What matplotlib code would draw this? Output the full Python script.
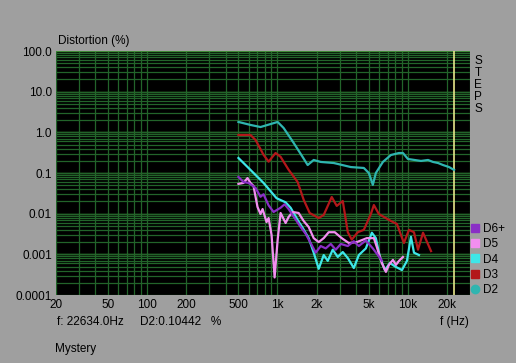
"""
Distortion vs frequency (harmonic steps), recreated from an analyzer screenshot.
"""
import matplotlib
matplotlib.use('Agg')
import matplotlib.pyplot as plt
from matplotlib.lines import Line2D
import numpy as np

# --- data ---
d2_f = [502, 621, 741, 840, 1003, 1115, 1331, 1560, 1705, 1897, 2147, 2704,
        3655, 4598, 5024, 5390, 5687, 6440, 7419, 8550, 9180, 10020, 12620,
        14290, 15600, 17060, 18630, 20720, 22640]
d2_v = [1.80, 1.52, 1.35, 1.52, 1.80, 1.28, 0.55, 0.248, 0.157, 0.209, 0.187,
        0.176, 0.14, 0.133, 0.10, 0.051, 0.10, 0.187, 0.277, 0.31, 0.31, 0.221,
        0.198, 0.209, 0.187, 0.176, 0.157, 0.14, 0.119]

d3_f = [502, 621, 679, 782, 855, 967, 1057, 1218, 1428, 1589, 1767, 2072, 2264,
        2609, 2850, 3170, 3464, 3717, 4135, 4598, 5207, 5490, 5998, 7419, 8249,
        9337, 10205, 11150, 11970, 13080, 15070]
d3_v = [0.86, 0.86, 0.65, 0.28, 0.19, 0.31, 0.25, 0.12, 0.06, 0.022, 0.0104,
        0.0078, 0.0093, 0.0257, 0.0155, 0.0205, 0.0035, 0.0023, 0.0035, 0.004,
        0.0098, 0.0163, 0.0098, 0.0066, 0.0056, 0.0019, 0.004, 0.0035, 0.0013,
        0.0034, 0.0012]

d4_f = [502, 621, 782, 984, 1155, 1262, 1428, 1560, 1736, 1897, 2072, 2264,
        2431, 2655, 2901, 3170, 3464, 3852, 4209, 4765, 5300, 5687, 6106, 6670,
        7287, 8104, 9015, 9850, 10570, 11150, 12180]
d4_v = [0.234, 0.119, 0.057, 0.024, 0.019, 0.014, 0.007, 0.0045, 0.0025,
        0.0011, 0.00044, 0.00096, 0.00069, 0.0013, 0.00086, 0.00114, 0.00081,
        0.00046, 0.00096, 0.0014, 0.0034, 0.0025, 0.00086, 0.00041, 0.00061,
        0.00049, 0.00041, 0.00069, 0.0027, 0.0011, 0.00096]

d5_f = [502, 549, 589, 621, 655, 703, 741, 769, 825, 855, 901, 951, 1003, 1057,
        1155, 1218, 1307, 1454, 1589, 1736, 1897, 2072, 2264, 2473, 2751, 3113,
        3525, 4060, 4850, 5490, 5790, 6325, 6790, 7160, 7690, 8104, 8550, 9180]
d5_v = [0.054, 0.057, 0.075, 0.057, 0.048, 0.0146, 0.0098, 0.013, 0.0062,
        0.0078, 0.003, 0.00027, 0.00225, 0.0104, 0.0059, 0.0083, 0.011, 0.0104,
        0.0066, 0.0047, 0.0025, 0.0020, 0.0025, 0.0035, 0.0035, 0.0025, 0.0019,
        0.0020, 0.0025, 0.0025, 0.0015, 0.00061, 0.00037, 0.00055, 0.00073,
        0.00055, 0.00069, 0.00086]

d6_f = [502, 549, 600, 679, 741, 782, 855, 934, 1057, 1135, 1218, 1354, 1507,
        1646, 1797, 1965, 2147, 2346, 2564, 2800, 3060, 3464, 3852, 4209, 4765,
        5390, 5890, 6325]
d6_v = [0.08, 0.06, 0.057, 0.043, 0.026, 0.030, 0.016, 0.011, 0.014, 0.017,
        0.013, 0.0078, 0.0047, 0.0032, 0.0019, 0.0011, 0.0016, 0.0014, 0.0018,
        0.0013, 0.0018, 0.0016, 0.0021, 0.0016, 0.0022, 0.0014, 0.00096, 0.0007]

series = [
    ('D2', d2_f, d2_v, '#2fb5b0', 'o'),
    ('D3', d3_f, d3_v, '#b3171a', 's'),
    ('D4', d4_f, d4_v, '#3ee6e8', 's'),
    ('D5', d5_f, d5_v, '#f28ef0', 's'),
    ('D6+', d6_f, d6_v, '#8a2fc6', 's'),
]

x_ticks = [20, 50, 100, 200, 500, 1000, 2000, 5000, 10000, 20000]
x_ticklabels = ['20', '50', '100', '200', '500', '1k', '2k', '5k', '10k', '20k']
y_ticks = [100, 10, 1, 0.1, 0.01, 0.001, 0.0001]
y_ticklabels = ['100.0', '10.0', '1.0', '0.1', '0.01', '0.001', '0.0001']

cursor_f = 22634.0
cursor_d2 = 0.10442

plt.rcParams['font.family'] = ['Liberation Sans', 'DejaVu Sans']
BG = '#9f9f9f'

fig = plt.figure(figsize=(5.16, 3.63), dpi=100, facecolor=BG)
ax = fig.add_axes([56/516, 1 - 295/363, 414/516, 244/363], facecolor='black')
ax.set_xscale('log')
ax.set_yscale('log')
ax.set_xlim(20, 30000)
ax.set_ylim(0.0001, 100)

# grid: every integer step inside each decade
for dec in [10, 100, 1000, 10000]:
    for m in range(1, 10):
        f = dec * m
        if 20 <= f <= 30000:
            ax.axvline(f, color='#22642a', lw=0.9, zorder=1)
for dec in [0.0001, 0.001, 0.01, 0.1, 1, 10]:
    for m in range(1, 10):
        ax.axhline(dec * m, color='#22642a', lw=0.9, zorder=1)
    ax.axhline(dec * 10, color='#3f8a36', lw=1.0, zorder=1)

ax.axvline(cursor_f, color='#e6e68a', lw=1.2, zorder=2)

for name, f, v, col, mk in series:
    ax.plot(f, v, color=col, lw=1.6, zorder=3, solid_joinstyle='round')

ax.set_xticks(x_ticks)
ax.set_xticklabels(x_ticklabels)
ax.set_yticks(y_ticks)
ax.set_yticklabels(y_ticklabels)
ax.minorticks_off()
ax.tick_params(length=0, labelsize=8.5, colors='black', pad=3)
for s in ax.spines.values():
    s.set_visible(False)

fig.text(58/516, 1 - 41/363, 'Distortion (%)', fontsize=8.5, va='center')
fig.text(478/516, 1 - 85/363, 'S\nT\nE\nP\nS', fontsize=8.5, ha='center',
         va='center', linespacing=1.0)
fig.text(57/516, 1 - 322/363, 'f: %.1fHz' % cursor_f, fontsize=8.5, va='center')
fig.text(140/516, 1 - 322/363, 'D2:%.5f   %%' % cursor_d2, fontsize=8.5,
         va='center')
fig.text(440/516, 1 - 322/363, 'f (Hz)', fontsize=8.5, va='center')
fig.text(55/516, 1 - 349/363, 'Mystery', fontsize=8.5, va='center')

handles = [Line2D([], [], ls='none', marker=mk, color=col, markersize=6)
           for name, f, v, col, mk in reversed(series)]
labels = [name for name, f, v, col, mk in reversed(series)]
fig.legend(handles, labels, loc='upper left', bbox_to_anchor=(470/516, 1 - 223/363),
           frameon=False, fontsize=8.5, handlelength=0.8, handletextpad=0.3,
           labelspacing=0.28, borderpad=0, borderaxespad=0)

fig.savefig('out.png', dpi=100, facecolor=BG)
